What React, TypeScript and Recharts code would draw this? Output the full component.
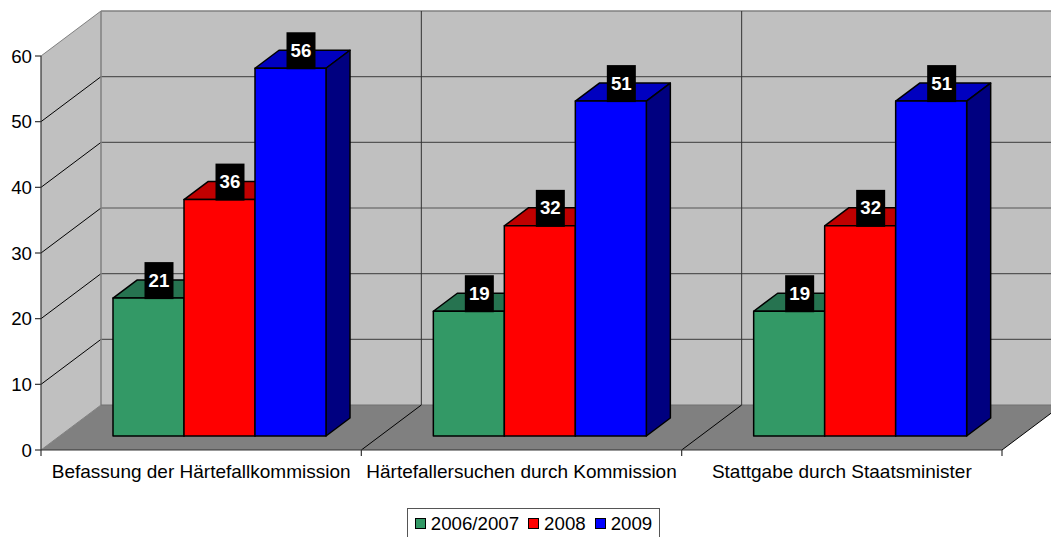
import React from "react";
import { BarChart, Bar, XAxis, YAxis, Legend, LabelList, ReferenceArea } from "recharts";

const categories = [
  "Befassung der Härtefallkommission",
  "Härtefallersuchen durch Kommission",
  "Stattgabe durch Staatsminister",
];
const seriesNames = ["2006/2007", "2008", "2009"];
const values2007 = [21, 19, 19];
const values2008 = [36, 32, 32];
const values2009 = [56, 51, 51];
const yTicks = [0, 10, 20, 30, 40, 50, 60];

const rows = categories.map((name, i) => ({
  name,
  [seriesNames[0]]: values2007[i],
  [seriesNames[1]]: values2008[i],
  [seriesNames[2]]: values2009[i],
}));

const FONT = "'Liberation Sans', Arial, sans-serif";
const WALL_DX = 60;
const WALL_DY = -45;
const BAR_DX = 19;
const BAR_DY = -14;
const TOP_DX = 24;
const TOP_DY = -18;

const faces: Record<string, { front: string; top: string; side: string }> = {
  "2006/2007": { front: "#339966", top: "#267350", side: "#194d33" },
  "2008": { front: "#ff0000", top: "#c00000", side: "#800000" },
  "2009": { front: "#0000ff", top: "#0000c0", side: "#000080" },
};

// back wall, side wall and floor, drawn from the area the y axis gives
function Room({ x, y, width, height }: any) {
  const bottom = y + height;
  const right = x + width;
  const n = categories.length;
  const lines = yTicks.filter((t) => t > 0).map((t) => y + height * (1 - t / 60));
  const splits = categories.map((_, i) => x + (width * (i + 1)) / n);
  return (
    <g>
      <polygon
        points={`${x},${y} ${x + WALL_DX},${y + WALL_DY} ${x + WALL_DX},${bottom + WALL_DY} ${x},${bottom}`}
        fill="#c0c0c0"
      />
      <rect x={x + WALL_DX} y={y + WALL_DY} width={width} height={height} fill="#c0c0c0" />
      <polygon
        points={`${x},${bottom} ${x + WALL_DX},${bottom + WALL_DY} ${right + WALL_DX},${bottom + WALL_DY} ${right},${bottom}`}
        fill="#808080"
      />
      {lines.map((ly, i) => (
        <g key={i}>
          <line x1={x} y1={ly} x2={x + WALL_DX} y2={ly + WALL_DY} stroke={i === lines.length - 1 ? "#808080" : "#000"} />
          {i < lines.length - 1 && (
            <line x1={x + WALL_DX} y1={ly + WALL_DY} x2={right + WALL_DX} y2={ly + WALL_DY} stroke="#555" strokeWidth={1.2} />
          )}
        </g>
      ))}
      <line x1={x + WALL_DX} y1={y + WALL_DY} x2={right + WALL_DX} y2={y + WALL_DY} stroke="#808080" strokeWidth={1.5} />
      <line x1={x + WALL_DX} y1={y + WALL_DY} x2={x + WALL_DX} y2={bottom + WALL_DY} stroke="#808080" strokeWidth={1.5} />
      <line x1={x + WALL_DX} y1={bottom + WALL_DY} x2={right + WALL_DX} y2={bottom + WALL_DY} stroke="#707070" strokeWidth={1.2} />
      <line x1={x} y1={bottom} x2={x + WALL_DX} y2={bottom + WALL_DY} stroke="#808080" />
      {splits.map((sx, i) => (
        <g key={i}>
          <line x1={sx} y1={bottom} x2={sx + WALL_DX} y2={bottom + WALL_DY} stroke="#000" />
          {i < splits.length - 1 && (
            <line x1={sx + WALL_DX} y1={bottom + WALL_DY} x2={sx + WALL_DX} y2={y + WALL_DY} stroke="#333" />
          )}
          <line x1={sx} y1={bottom} x2={sx} y2={bottom + 6} stroke="#333" strokeWidth={1.2} />
        </g>
      ))}
      <line x1={x} y1={bottom} x2={x} y2={bottom + 6} stroke="#333" strokeWidth={1.2} />
    </g>
  );
}

function Box3D({ x, y, width, height, dataKey }: any) {
  const c = faces[dataKey];
  const l = x + BAR_DX;
  const r = l + width;
  const t = y + BAR_DY;
  const b = t + height;
  const stroke = { stroke: "#000", strokeWidth: 1.5, strokeLinejoin: "round" as const };
  return (
    <g>
      <polygon points={`${l},${t} ${l + TOP_DX},${t + TOP_DY} ${r + TOP_DX},${t + TOP_DY} ${r},${t}`} fill={c.top} {...stroke} />
      <polygon points={`${r},${t} ${r + TOP_DX},${t + TOP_DY} ${r + TOP_DX},${b + TOP_DY} ${r},${b}`} fill={c.side} {...stroke} />
      <rect x={l} y={t} width={width} height={height} fill={c.front} {...stroke} />
    </g>
  );
}

function ValueTag({ x, y, width, value }: any) {
  const cx = x + width / 2 + BAR_DX + 10.5;
  const top = y + BAR_DY - 36;
  return (
    <g>
      <rect x={cx - 14.5} y={top} width={29} height={37} fill="#000" />
      <text x={cx} y={top + 24.5} textAnchor="middle" fill="#fff" fontFamily={FONT} fontWeight="bold" fontSize={18.7}>
        {value}
      </text>
    </g>
  );
}

function LegendBox({ payload }: any) {
  return (
    <div
      style={{
        width: 251,
        height: 29,
        borderTop: "1.5px solid #555",
        borderLeft: "1.5px solid #555",
        borderRight: "1.5px solid #555",
        display: "flex",
        alignItems: "center",
        justifyContent: "center",
        fontFamily: FONT,
        fontSize: 18.7,
        color: "#000",
        background: "#fff",
      }}
    >
      {(payload || []).map((p: any, i: number) => (
        <span key={p.value} style={{ display: "inline-flex", alignItems: "center", marginLeft: i ? 9 : 0 }}>
          <span
            style={{
              display: "inline-block",
              width: 9,
              height: 9,
              marginRight: 5,
              background: faces[p.value].front,
              border: "1.5px solid #000",
            }}
          />
          {p.value}
        </span>
      ))}
    </div>
  );
}

export default function App() {
  return (
    <div style={{ position: "absolute", left: 0, top: 0, width: 1051, height: 537, overflow: "hidden" }}>
      <BarChart
        width={1051}
        height={537}
        data={rows}
        margin={{ top: 56, right: 49, bottom: 0, left: 0 }}
        barCategoryGap={53}
        barGap={0}
      >
        <XAxis
          dataKey="name"
          axisLine={{ stroke: "#333", strokeWidth: 1.2 }}
          tickLine={false}
          interval={0}
          height={57}
          tickMargin={9}
          fontSize={19}
          fontFamily={FONT}
          tick={{ fill: "#000" }}
        />
        <YAxis
          width={41}
          domain={[0, 60]}
          ticks={yTicks}
          interval={0}
          axisLine={{ stroke: "#333", strokeWidth: 1.2 }}
          tickLine={{ stroke: "#333", strokeWidth: 1.2 }}
          tickSize={6}
          tickMargin={3}
          fontSize={18.7}
          fontFamily={FONT}
          tick={{ fill: "#000" }}
        />
        <ReferenceArea y1={0} y2={60} ifOverflow="visible" shape={Room} />
        <Legend
          height={30}
          verticalAlign="bottom"
          content={LegendBox}
          wrapperStyle={{ left: 407, top: 508, bottom: "auto", width: 254 }}
        />
        {seriesNames.map((s) => (
          <Bar key={s} dataKey={s} fill={faces[s].front} isAnimationActive={false} shape={(p: any) => <Box3D {...p} dataKey={s} />}>
            <LabelList dataKey={s} content={ValueTag} />
          </Bar>
        ))}
      </BarChart>
    </div>
  );
}
